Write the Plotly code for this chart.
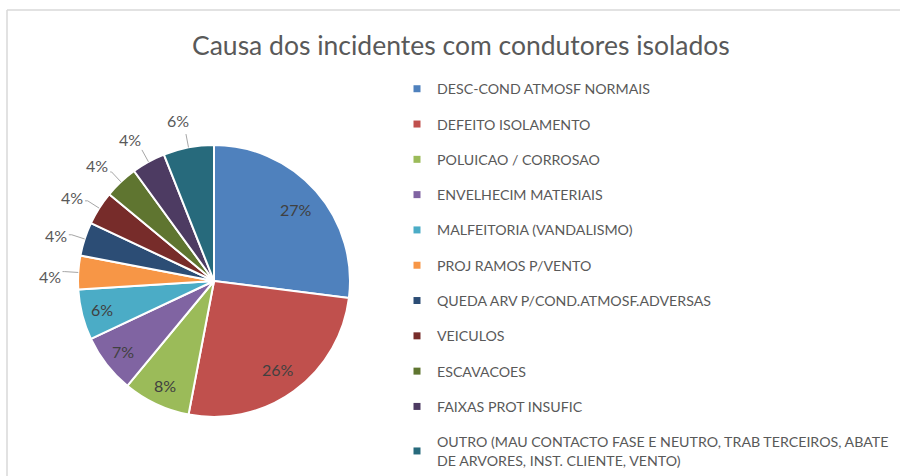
import math
import plotly.graph_objects as go

# ---------------- data ----------------
categories = [
    "DESC-COND ATMOSF NORMAIS",
    "DEFEITO ISOLAMENTO",
    "POLUICAO / CORROSAO",
    "ENVELHECIM MATERIAIS",
    "MALFEITORIA (VANDALISMO)",
    "PROJ RAMOS P/VENTO",
    "QUEDA ARV P/COND.ATMOSF.ADVERSAS",
    "VEICULOS",
    "ESCAVACOES",
    "FAIXAS PROT INSUFIC",
    "OUTRO (MAU CONTACTO FASE E NEUTRO, TRAB TERCEIROS, ABATE<br>DE ARVORES, INST. CLIENTE, VENTO)",
]
values = [27, 26, 8, 7, 6, 4, 4, 4, 4, 4, 6]
colors = ["#4F81BD", "#C0504D", "#9BBB59", "#8064A2", "#4BACC6", "#F79646",
          "#2C4D75", "#772C2A", "#5F7530", "#4D3B62", "#276A7C"]
label_positions = ["inside"] * 5 + ["outside"] * 6
title_text = "Causa dos incidentes com condutores isolados"

# ---------------- layout geometry (pixels) ----------------
W, H = 900, 476
cx, cy, R = 214, 281, 136
FONT = "Lato, 'Open Sans', sans-serif"
LEG_SIZE = 14.2


def px2paper(x, y):
    return x / W, 1 - y / H


fig = go.Figure()
fig.add_trace(go.Pie(
    labels=categories, values=values, sort=False, direction="clockwise",
    rotation=0, textinfo="none", hoverinfo="label+percent",
    marker=dict(colors=colors, line=dict(color="white", width=2)),
    domain=dict(x=[(cx - R) / W, (cx + R) / W], y=[1 - (cy + R) / H, 1 - (cy - R) / H]),
    showlegend=False,
))

# legend entries (one per category, spaced like the original)
for name, col in zip(categories, colors):
    fig.add_trace(go.Scatter(
        x=[None], y=[None], mode="markers", name=name, legendgroup=name,
        marker=dict(symbol="square", size=7, color=col), hoverinfo="skip",
    ))

# percentage labels, placed from the slice angles
total = sum(values)
annotations = []
shapes = []
cum = 0.0
for v, pos in zip(values, label_positions):
    start = cum / total * 360
    cum += v
    end = cum / total * 360
    mid = math.radians((start + end) / 2)
    txt = f"{round(v / total * 100)}%"
    if pos == "inside":
        rf = 0.80 if v >= 20 else 0.85
        x = cx + rf * R * math.sin(mid)
        y = cy - rf * R * math.cos(mid)
        px, py = px2paper(x, y)
        annotations.append(dict(x=px, y=py, xref="paper", yref="paper", text=txt,
                                xanchor="center", yanchor="middle", showarrow=False,
                                font=dict(family=FONT, size=16, color="#404040")))
    else:
        ta = mid - math.radians(2)
        tx = cx + 1.21 * R * math.sin(ta)
        ty = cy - 1.21 * R * math.cos(ta)
        px, py = px2paper(tx, ty)
        annotations.append(dict(x=px, y=py, xref="paper", yref="paper", text=txt,
                                xanchor="center", yanchor="middle", showarrow=False,
                                font=dict(family=FONT, size=16, color="#595959")))
        ex0 = cx + R * math.sin(mid)
        ey0 = cy - R * math.cos(mid)
        ex1 = cx + 1.1 * R * math.sin(mid)
        ey1 = cy - 1.1 * R * math.cos(mid)
        pts = [(ex0, ey0), (ex1, ey1)]
        if tx + 13 < ex1 - 1:
            pts.append((tx + 13, ey1))
        path = "M " + " L ".join(f"{p[0] / W:.5f},{1 - p[1] / H:.5f}" for p in pts)
        shapes.append(dict(type="path", path=path, xref="paper", yref="paper",
                           line=dict(color="#A6A6A6", width=1)))

# chart-area border (top and left edges visible)
shapes.append(dict(type="line", xref="paper", yref="paper", x0=7 / W, x1=1, y0=1 - 10 / H, y1=1 - 10 / H,
                   line=dict(color="#D9D9D9", width=1.5)))
shapes.append(dict(type="line", xref="paper", yref="paper", x0=7 / W, x1=7 / W, y0=0, y1=1 - 10 / H,
                   line=dict(color="#D9D9D9", width=1.5)))

tx, ty = px2paper(461, 45)
annotations.append(dict(x=tx, y=ty, xref="paper", yref="paper", text=title_text, showarrow=False,
                        xanchor="center", yanchor="middle",
                        font=dict(family=FONT, size=26.5, color="#595959")))

lx, ly = px2paper(397, 73)
fig.update_layout(
    width=W, height=H, margin=dict(l=0, r=0, t=0, b=0, autoexpand=False),
    paper_bgcolor="white", plot_bgcolor="white",
    xaxis=dict(visible=False), yaxis=dict(visible=False),
    annotations=annotations, shapes=shapes,
    legend=dict(x=lx, y=ly, xanchor="left", yanchor="top", tracegroupgap=13.84,
                font=dict(family=FONT, size=LEG_SIZE, color="#595959"), bgcolor="rgba(0,0,0,0)"),
    font=dict(family=FONT),
)
fig.write_html("out.html", config={"displayModeBar": False},
               post_script="document.body.style.margin='0';")
